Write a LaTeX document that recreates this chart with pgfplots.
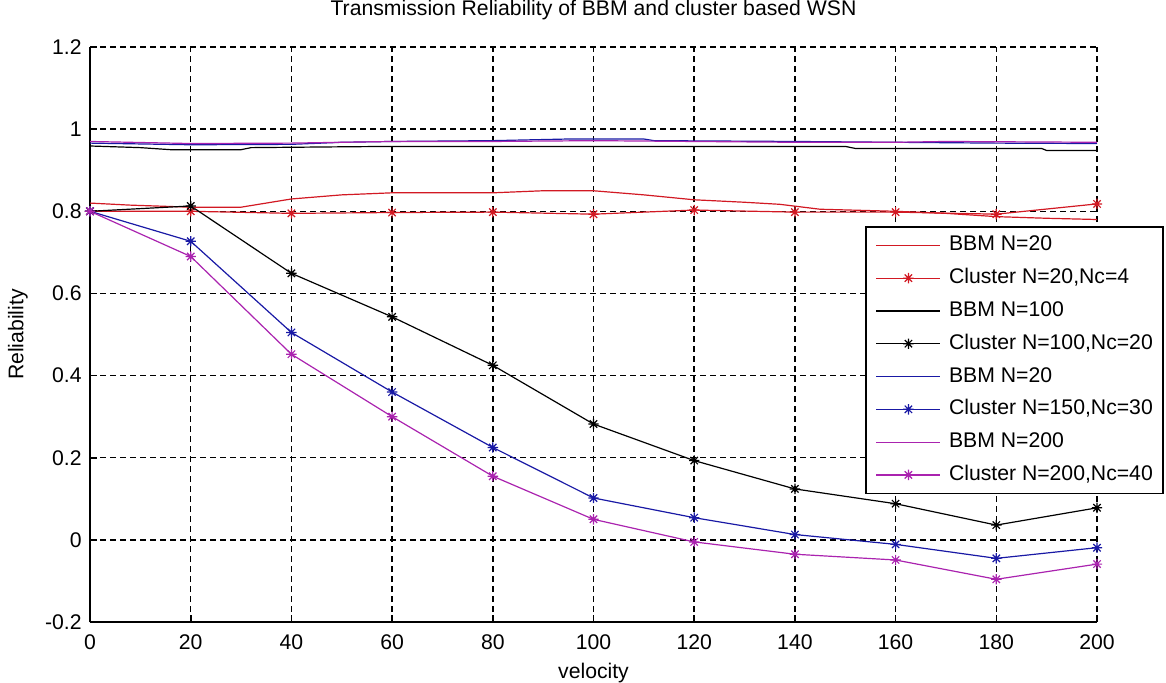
\documentclass[border=0pt]{standalone}
\usepackage{fontspec}
\setmainfont{Liberation Sans}
\usepackage{pgfplots}
\pgfplotsset{compat=1.18}
\definecolor{mred}{RGB}{210,25,35}
\definecolor{mblue}{RGB}{25,25,165}
\definecolor{mmag}{RGB}{170,35,175}
\pgfdeclareplotmark{mstar}{%
  \pgfpathmoveto{\pgfqpoint{-\pgfplotmarksize}{0pt}}\pgfpathlineto{\pgfqpoint{\pgfplotmarksize}{0pt}}%
  \pgfpathmoveto{\pgfqpoint{0pt}{-\pgfplotmarksize}}\pgfpathlineto{\pgfqpoint{0pt}{\pgfplotmarksize}}%
  \pgfpathmoveto{\pgfqpoint{-.707\pgfplotmarksize}{-.707\pgfplotmarksize}}\pgfpathlineto{\pgfqpoint{.707\pgfplotmarksize}{.707\pgfplotmarksize}}%
  \pgfpathmoveto{\pgfqpoint{-.707\pgfplotmarksize}{.707\pgfplotmarksize}}\pgfpathlineto{\pgfqpoint{.707\pgfplotmarksize}{-.707\pgfplotmarksize}}%
  \pgfusepathqstroke}
\begin{document}
\fontsize{10.6}{12.7}\selectfont
\begin{tikzpicture}
\useasboundingbox (-45pt,-30pt) rectangle (538pt,311pt);
\begin{axis}[
  scale only axis,
  width=503.5pt, height=287.5pt,
  xmin=0, xmax=200, ymin=-0.2, ymax=1.2,
  xtick={0,20,...,200},
  ytick={-0.2,0,0.2,0.4,0.6,0.8,1,1.2},
  /pgf/number format/assume math mode=true,
  /pgf/number format/fixed,
  axis x line*=bottom, axis y line*=left,
  axis line style={black, line width=0.8pt},
  tick align=inside,
  major tick length=3.5pt,
  tick style={black, line width=0.8pt},
  grid=major,
  major grid style={black, line width=0.75pt, dash pattern=on 3pt off 2pt},
  xticklabel style={anchor=north, inner sep=0pt, yshift=-6pt},
  yticklabel style={anchor=east, inner sep=0pt, xshift=-4pt},
  title={Transmission Reliability of BBM and cluster based WSN},
  title style={at={(axis description cs:0.5,1)}, anchor=center, yshift=12.5pt, inner sep=0pt},
  xlabel={velocity},
  xlabel style={at={(axis description cs:0.5,0)}, anchor=center, yshift=-25.5pt, inner sep=0pt},
  ylabel={Reliability},
  ylabel style={at={(axis description cs:-0.0715,0.5)}, anchor=center, inner sep=0pt},
  mark size=2.6pt,
  every axis plot/.append style={line width=0.6pt},
  every mark/.append style={line width=0.8pt},
  legend style={at={(axis description cs:0.7696,0.6887)}, anchor=north west,
    draw=black, line width=0.8pt, fill=white, inner xsep=5pt, inner ysep=4pt,
    row sep=5.9pt, column sep=4pt,
    nodes={inner sep=0pt, text height=8pt, text depth=2.5pt, line width=0.6pt}},
  legend cell align=left,
  legend image code/.code={\draw[mark repeat=2,mark phase=2,#1] plot coordinates {(0pt,0pt) (16pt,0pt) (32pt,0pt)};},
]
% BBM N=20
\addplot[mred, no markers] coordinates {
(0,0.82)(8,0.815)(20,0.81)(30,0.81)(40,0.83)(50,0.84)(60,0.845)(70,0.845)(80,0.845)(90,0.85)(100,0.85)(105,0.845)(110,0.84)(120,0.828)(130,0.822)(137,0.817)(145,0.805)(160,0.80)(170,0.795)(180,0.787)(190,0.783)(200,0.78)};
\addlegendentry{BBM N=20}
% Cluster N=20, Nc=4
\addplot[mred, mark=mstar] coordinates {
(0,0.80)(20,0.80)(40,0.795)(60,0.797)(80,0.798)(100,0.793)(120,0.803)(140,0.798)(160,0.798)(180,0.793)(200,0.818)};
\addlegendentry{Cluster N=20,Nc=4}
% BBM N=100
\addplot[black, no markers] coordinates {
(0,0.959)(10,0.955)(16,0.95)(30,0.95)(32,0.955)(50,0.957)(60,0.958)(100,0.958)(150,0.958)(152,0.953)(189,0.953)(190,0.948)(200,0.948)};
\addlegendentry{BBM N=100}
% Cluster N=100, Nc=20
\addplot[black, mark=mstar] coordinates {
(0,0.80)(20,0.813)(40,0.649)(60,0.543)(80,0.425)(100,0.282)(120,0.193)(140,0.124)(160,0.088)(180,0.036)(200,0.078)};
\addlegendentry{Cluster N=100,Nc=20}
% BBM N=20 (blue)
\addplot[mblue, no markers] coordinates {
(0,0.966)(20,0.962)(40,0.963)(50,0.968)(60,0.97)(80,0.972)(95,0.976)(110,0.976)(112,0.972)(140,0.97)(160,0.968)(180,0.966)(200,0.965)};
\addlegendentry{BBM N=20}
% Cluster N=150, Nc=30
\addplot[mblue, mark=mstar] coordinates {
(0,0.80)(20,0.727)(40,0.505)(60,0.36)(80,0.225)(100,0.102)(120,0.054)(140,0.013)(160,-0.011)(180,-0.045)(200,-0.019)};
\addlegendentry{Cluster N=150,Nc=30}
% BBM N=200
\addplot[mmag, no markers] coordinates {
(0,0.97)(20,0.965)(40,0.966)(60,0.97)(80,0.97)(100,0.972)(120,0.97)(140,0.968)(160,0.968)(170,0.97)(200,0.968)};
\addlegendentry{BBM N=200}
% Cluster N=200, Nc=40
\addplot[mmag, mark=mstar] coordinates {
(0,0.80)(20,0.69)(40,0.452)(60,0.30)(80,0.155)(100,0.05)(120,-0.005)(140,-0.035)(160,-0.049)(180,-0.096)(200,-0.059)};
\addlegendentry{Cluster N=200,Nc=40}
\end{axis}
\end{tikzpicture}
\end{document}
